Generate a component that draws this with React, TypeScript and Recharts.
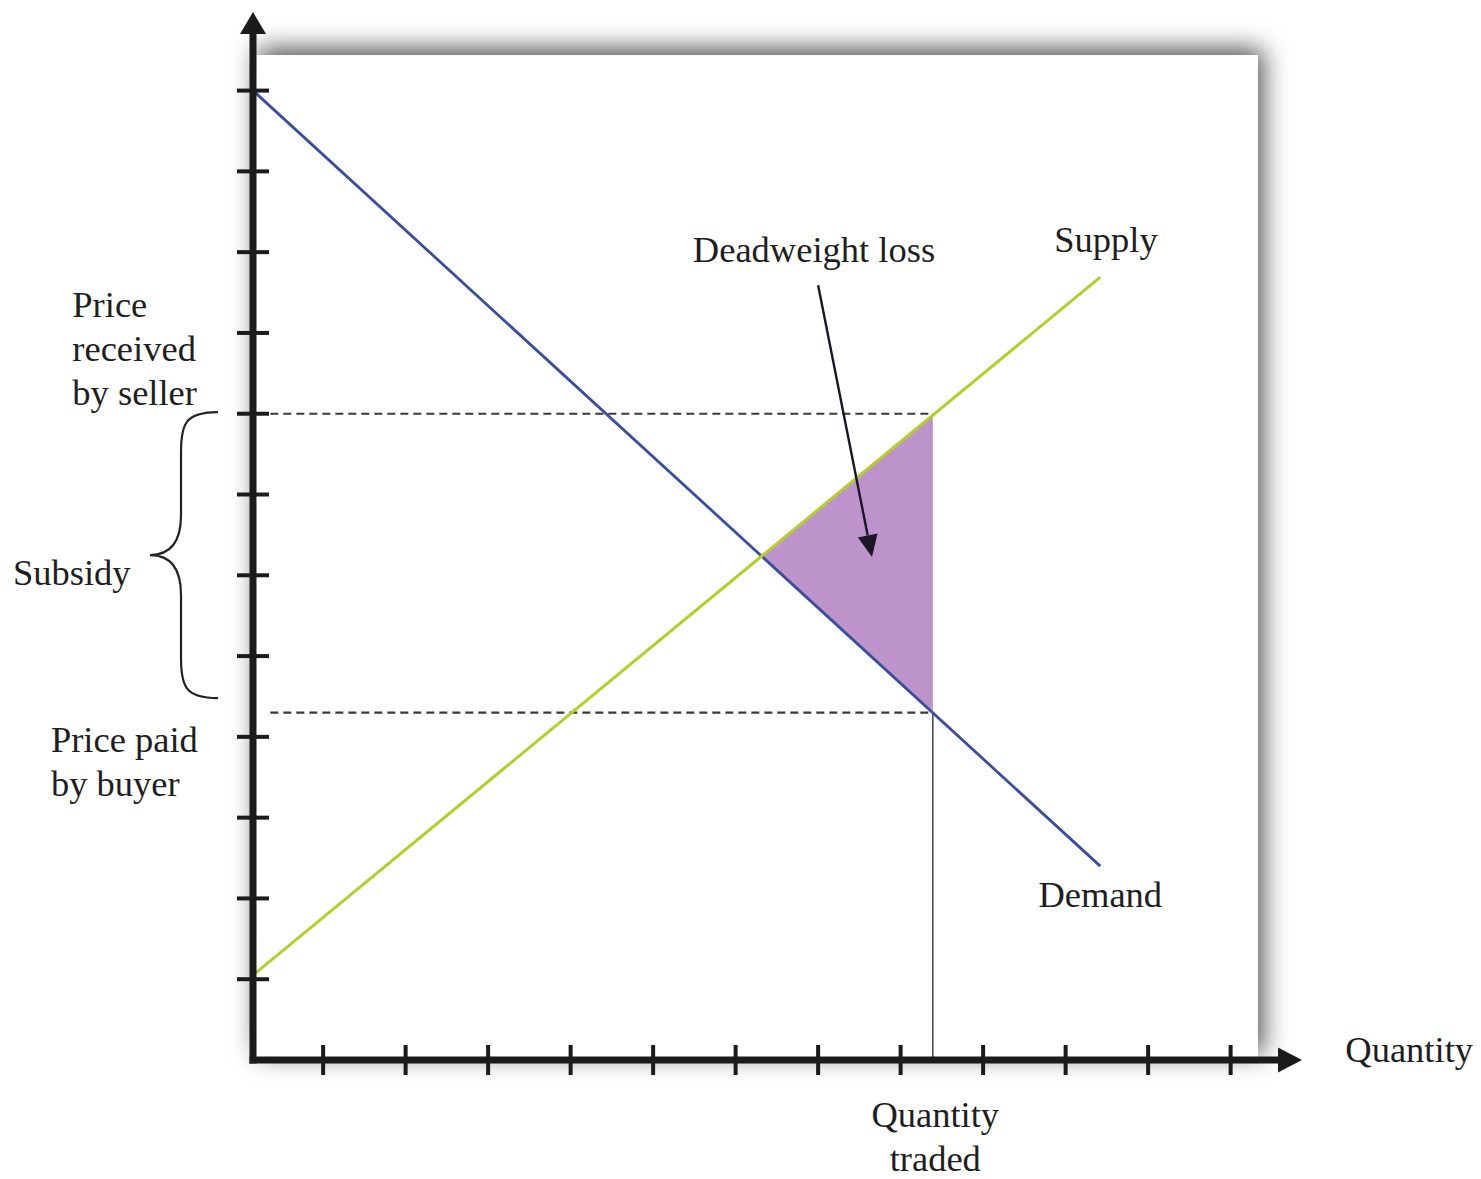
import React from 'react';
import {
  ComposedChart,
  Line,
  Area,
  XAxis,
  YAxis,
  ReferenceLine,
  ReferenceDot,
  ReferenceArea,
} from 'recharts';

// ---- data (quantity q, price p) ----
const demandCurve = [
  { q: 0.15, p: 12.0 },
  { q: 10.42, p: 2.4 },
];
const supplyCurve = [
  { q: 0.15, p: 1.05 },
  { q: 10.42, p: 9.69 },
];
const deadweightLoss = [
  { q: 6.32, lo: 6.24, hi: 6.24 },
  { q: 8.39, lo: 4.3, hi: 7.98 },
];
const quantityTicks = [1, 2, 3, 4, 5, 6, 7, 8, 9, 10, 11, 12];
const priceTicks = [1, 2, 3, 4, 5, 6, 7, 8, 9, 10, 11, 12];

const priceReceivedBySeller = 8.0;
const pricePaidByBuyer = 4.3;
const quantityTraded = 8.39;

const X_DOMAIN = [0.15, 12.647];
const Y_DOMAIN = [0, 12.75];
const PANEL = { x1: 0.15, x2: 12.33, y1: 0, y2: 12.44 };
const DASH_START = 0.36;
const ARROW_FROM = { q: 7.0, p: 9.59 };
const ARROW_TO = { q: 7.653, p: 6.225 };
const BRACE = { q: -0.274, top: 8.02, bottom: 4.48 };

const FONT = "'Liberation Serif', 'Times New Roman', serif";
const FONT_SIZE = 36.5;
const TEXT_COLOR = '#1e1e1e';

type Annotation = { q: number; p: number; lines: string[]; anchor: 'start' | 'middle' | 'end' };
const annotations: Annotation[] = [
  { q: 6.95, p: 9.88, lines: ['Deadweight loss'], anchor: 'middle' },
  { q: 10.49, p: 10.0, lines: ['Supply'], anchor: 'middle' },
  { q: 10.42, p: 1.89, lines: ['Demand'], anchor: 'middle' },
  { q: 13.39, p: -0.03, lines: ['Quantity'], anchor: 'start' },
  { q: 8.42, p: -0.83, lines: ['Quantity', 'traded'], anchor: 'middle' },
  { q: -2.04, p: 9.2, lines: ['Price', 'received', 'by seller'], anchor: 'start' },
  { q: -2.76, p: 5.88, lines: ['Subsidy'], anchor: 'start' },
  { q: -2.30, p: 3.81, lines: ['Price paid', 'by buyer'], anchor: 'start' },
];

const AXIS_COLOR = '#1b1b1b';

const XTick = (props: any) => {
  const { x, y } = props;
  return <line x1={x} x2={x} y1={y - 15} y2={y + 15} stroke={AXIS_COLOR} strokeWidth={4} />;
};
const YTick = (props: any) => {
  const { x, y } = props;
  return <line x1={x - 16} x2={x + 16} y1={y} y2={y} stroke={AXIS_COLOR} strokeWidth={4} />;
};

const PanelShape = (props: any) => {
  const { x, y, width, height } = props;
  return (
    <g>
      <defs>
        <filter id="panelShadow" x="-20%" y="-20%" width="140%" height="140%">
          <feDropShadow dx="5" dy="-6" stdDeviation="13" floodColor="#000" floodOpacity="0.7" />
        </filter>
      </defs>
      <rect x={x} y={y} width={width} height={height} fill="#ffffff" filter="url(#panelShadow)" />
    </g>
  );
};

const UpArrowHead = (props: any) => {
  const { cx, cy } = props;
  return (
    <polygon
      points={`${cx},${cy - 18} ${cx - 13},${cy + 4} ${cx + 13},${cy + 4}`}
      fill={AXIS_COLOR}
    />
  );
};
const RightArrowHead = (props: any) => {
  const { cx, cy } = props;
  return (
    <polygon
      points={`${cx + 18},${cy} ${cx - 6},${cy - 12.5} ${cx - 6},${cy + 12.5}`}
      fill={AXIS_COLOR}
    />
  );
};

const PointerArrow = (props: any) => {
  const { x1, y1, x2, y2 } = props;
  const ang = Math.atan2(y2 - y1, x2 - x1);
  const len = 22;
  const half = 10;
  const bx = x2 - len * Math.cos(ang);
  const by = y2 - len * Math.sin(ang);
  const nx = -Math.sin(ang);
  const ny = Math.cos(ang);
  return (
    <g>
      <line x1={x1} y1={y1} x2={bx} y2={by} stroke="#1c1526" strokeWidth={2.4} />
      <polygon
        points={`${x2},${y2} ${bx + nx * half},${by + ny * half} ${bx - nx * half},${by - ny * half}`}
        fill="#1c1526"
      />
    </g>
  );
};

const BraceShape = (props: any) => {
  const { x1, y1, y2 } = props;
  const x = x1;
  const top = Math.min(y1, y2);
  const bot = Math.max(y1, y2);
  const mid = (top + bot) / 2;
  const v = x - 37; // vertical stroke
  const tip = x - 68;
  const d = [
    `M ${x} ${top}`,
    `C ${v + 4} ${top} ${v} ${top + 12} ${v} ${top + 40}`,
    `L ${v} ${mid - 40}`,
    `C ${v} ${mid - 12} ${v - 12} ${mid} ${tip} ${mid}`,
    `C ${v - 12} ${mid} ${v} ${mid + 12} ${v} ${mid + 40}`,
    `L ${v} ${bot - 40}`,
    `C ${v} ${bot - 12} ${v + 4} ${bot} ${x} ${bot}`,
  ].join(' ');
  return <path d={d} fill="none" stroke="#222" strokeWidth={2.2} />;
};

const makeTextShape = (a: Annotation) => (props: any) => {
  const { cx, cy } = props;
  return (
    <text
      x={cx}
      y={cy}
      textAnchor={a.anchor}
      fontFamily={FONT}
      fontSize={FONT_SIZE}
      fill={TEXT_COLOR}
    >
      {a.lines.map((l, i) => (
        <tspan key={i} x={cx} dy={i === 0 ? 0 : 44}>
          {l}
        </tspan>
      ))}
    </text>
  );
};

export default function App() {
  return (
    <div style={{ width: 1465, height: 1171, background: '#fff' }}>
      <ComposedChart
        width={1465}
        height={1171}
        margin={{ top: 22, right: 189, bottom: 109, left: 235 }}
      >
        <XAxis
          type="number"
          dataKey="q"
          domain={X_DOMAIN}
          ticks={quantityTicks}
          allowDataOverflow
          height={10}
          tickSize={0}
          tickMargin={0}
          tickLine={false}
          tick={XTick}
          axisLine={{ stroke: AXIS_COLOR, strokeWidth: 7, strokeLinecap: 'square' }}
        />
        <YAxis
          type="number"
          domain={Y_DOMAIN}
          ticks={priceTicks}
          allowDataOverflow
          width={10}
          tickSize={0}
          tickMargin={0}
          tickLine={false}
          tick={YTick}
          axisLine={{ stroke: AXIS_COLOR, strokeWidth: 7, strokeLinecap: 'square' }}
        />
        <ReferenceArea
          x1={PANEL.x1}
          x2={PANEL.x2}
          y1={PANEL.y1}
          y2={PANEL.y2}
          ifOverflow="visible"
          shape={PanelShape}
          zIndex={-50}
        />
        <Area
          data={deadweightLoss}
          dataKey={(d: any) => [d.lo, d.hi]}
          type="linear"
          stroke="none"
          fill="#bd93cc"
          fillOpacity={1}
          isAnimationActive={false}
          dot={false}
          activeDot={false}
        />
        <ReferenceLine
          segment={[
            { x: DASH_START, y: priceReceivedBySeller },
            { x: quantityTraded, y: priceReceivedBySeller },
          ]}
          stroke="#3a3a3a"
          strokeWidth={2.2}
          strokeDasharray="8 5"
          ifOverflow="visible"
        />
        <ReferenceLine
          segment={[
            { x: DASH_START, y: pricePaidByBuyer },
            { x: quantityTraded, y: pricePaidByBuyer },
          ]}
          stroke="#3a3a3a"
          strokeWidth={2.2}
          strokeDasharray="8 5"
          ifOverflow="visible"
        />
        <ReferenceLine
          segment={[
            { x: quantityTraded, y: pricePaidByBuyer },
            { x: quantityTraded, y: 0 },
          ]}
          stroke="#4a4a4a"
          strokeWidth={1.6}
          ifOverflow="visible"
        />
        <Line
          data={demandCurve}
          dataKey="p"
          type="linear"
          stroke="#3b4e98"
          strokeWidth={2.8}
          dot={false}
          activeDot={false}
          isAnimationActive={false}
        />
        <Line
          data={supplyCurve}
          dataKey="p"
          type="linear"
          stroke="#b5cd2d"
          strokeWidth={3}
          dot={false}
          activeDot={false}
          isAnimationActive={false}
        />
        <ReferenceLine
          segment={[
            { x: ARROW_FROM.q, y: ARROW_FROM.p },
            { x: ARROW_TO.q, y: ARROW_TO.p },
          ]}
          shape={PointerArrow}
          ifOverflow="visible"
        />
        <ReferenceLine
          segment={[
            { x: BRACE.q, y: BRACE.top },
            { x: BRACE.q, y: BRACE.bottom },
          ]}
          shape={BraceShape}
          ifOverflow="visible"
        />
        <ReferenceDot x={X_DOMAIN[0]} y={Y_DOMAIN[1]} r={0} shape={UpArrowHead} ifOverflow="visible" />
        <ReferenceDot x={X_DOMAIN[1]} y={Y_DOMAIN[0]} r={0} shape={RightArrowHead} ifOverflow="visible" />
        {annotations.map((a, i) => (
          <ReferenceDot
            key={i}
            x={a.q}
            y={a.p}
            r={0}
            shape={makeTextShape(a)}
            ifOverflow="visible"
          />
        ))}
      </ComposedChart>
    </div>
  );
}
